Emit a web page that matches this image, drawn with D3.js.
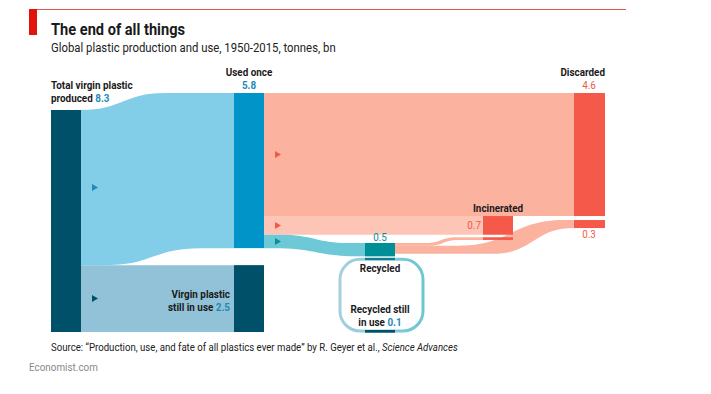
<!DOCTYPE html>
<html>
<head>
<meta charset="utf-8">
<script src="https://cdn.jsdelivr.net/npm/d3@7"></script>
<style>
  html, body { margin: 0; padding: 0; background: #fff; }
  svg { display: block; }
  text { font-family: Roboto, "Noto Sans", sans-serif; }
</style>
</head>
<body>
<svg id="chart" width="711" height="394"></svg>
<script>
// ---------------- DATA ----------------
const nodeIds    = ["total", "usedOnce", "stillUse", "recycled", "incinerated", "discarded", "recycledStill"];
const nodeValues = [8.3, 5.8, 2.5, 0.5, 0.7, 4.6, 0.1];
const linkSources = ["total", "total", "usedOnce", "usedOnce", "usedOnce", "recycled", "recycled", "recycled"];
const linkTargets = ["usedOnce", "stillUse", "discarded", "incinerated", "recycled", "incinerated", "discarded", "recycledStill"];
const linkValues  = [5.8, 2.5, 4.6, 0.7, 0.5, 0.1, 0.3, 0.1];
const titleText = "The end of all things";
const subtitleText = "Global plastic production and use, 1950-2015, tonnes, bn";

// ---------------- LAYOUT ----------------
const svg = d3.select("#chart");
const val = {}; nodeIds.forEach((id, i) => val[id] = nodeValues[i]);

const h = d3.scaleLinear().domain([0, d3.max(nodeValues)]).range([0, 222]);
const colX = d3.scaleOrdinal()
  .domain(["total", "usedOnce", "stillUse", "recycled", "recycledStill", "incinerated", "discarded"])
  .range([51, 234, 234, 365, 365, 483, 574]);
const nodeW = 30;
const SX = 0.86; // horizontal condensing of text

const C = {
  dark: "#00506a", blue: "#0094c8", teal: "#008f96", red: "#f4594a",
  flowBlue: "#82cde8", flowGrey: "#91c2d7", flowRed: "#fbb3a0", flowRed2: "#fdc5b5",
  flowTeal: "#6dc9d5", numBlue: "#1e8bb8", numRed: "#f05a4a", numTeal: "#0a8e98", ink: "#1a1a1a"
};

const nodeTop = {};
nodeTop.total = 110;
nodeTop.usedOnce = 93;
nodeTop.stillUse = nodeTop.total + h(val.total) - h(val.stillUse);
nodeTop.discarded = nodeTop.usedOnce;
nodeTop.incinerated = nodeTop.usedOnce + h(val.discarded);
nodeTop.recycled = 243;
nodeTop.recycledStill = 330;

function txt(x, y, anchor, size, weight, fill) {
  return svg.append("g").attr("transform", `translate(${x},${y}) scale(${SX},1)`)
    .append("text").attr("text-anchor", anchor).attr("font-size", size)
    .attr("font-weight", weight).attr("fill", fill);
}

// ---------------- HEADER ----------------
svg.append("line").attr("x1", 37).attr("x2", 626).attr("y1", 9.5).attr("y2", 9.5)
  .attr("stroke", "#e8574c").attr("stroke-width", 1);
svg.append("rect").attr("x", 29).attr("y", 9).attr("width", 8).attr("height", 26).attr("fill", "#e3120b");
txt(51, 35, "start", 17, "bold", C.ink).text(titleText);
txt(51, 52, "start", 13.2, "normal", "#222").text(subtitleText);

// ---------------- LINKS ----------------
function ribbon(x0, x1, s0, s1, t0, t1, topR, botR) {
  const w = x1 - x0;
  const ta = x0 + topR[0] * w, tb = x0 + topR[1] * w, tm = (ta + tb) / 2;
  const ba = x0 + botR[0] * w, bb = x0 + botR[1] * w, bm = (ba + bb) / 2;
  const p = d3.path();
  p.moveTo(x0, s0); p.lineTo(ta, s0);
  p.bezierCurveTo(tm, s0, tm, t0, tb, t0);
  p.lineTo(x1, t0); p.lineTo(x1, t1); p.lineTo(bb, t1);
  p.bezierCurveTo(bm, t1, bm, s1, ba, s1);
  p.lineTo(x0, s1); p.closePath();
  return p.toString();
}
const linkStyle = {
  "total-usedOnce":       { color: C.flowBlue, topR: [0, 0.55], botR: [0.16, 0.78], arrow: "#1e8bb8" },
  "total-stillUse":       { color: C.flowGrey, topR: [0, 1], botR: [0, 1], arrow: C.dark },
  "usedOnce-discarded":   { color: C.flowRed, topR: [0, 1], botR: [0, 1], arrow: "#f05a4a" },
  "usedOnce-incinerated": { color: C.flowRed2, topR: [0, 1], botR: [0, 1], arrow: "#f05a4a" },
  "usedOnce-recycled":    { color: C.flowTeal, topR: [0.15, 0.85], botR: [0.1, 0.95], arrow: "#0a8e98" },
  "recycled-incinerated": { color: C.flowRed, topR: [0.35, 0.7], botR: [0.38, 0.72] },
  "recycled-discarded":   { color: C.flowRed, topR: [0.35, 0.95], botR: [0.55, 1.0] }
};
const outOff = {}, inOff = {};
nodeIds.forEach(id => { outOff[id] = nodeTop[id]; inOff[id] = nodeTop[id]; });
const gapIn = { discarded: 4, incinerated: 2.5 };
const links = linkSources.map((s, i) => ({ s, t: linkTargets[i], v: linkValues[i] }));
const gLinks = svg.append("g");
const arrows = [];
links.forEach(l => {
  const st = linkStyle[l.s + "-" + l.t];
  const s0 = outOff[l.s], s1 = s0 + h(l.v); outOff[l.s] = s1;
  if (!st) return;
  let t0 = inOff[l.t];
  if (l.s === "recycled" && gapIn[l.t] !== undefined) t0 += gapIn[l.t];
  const t1 = t0 + h(l.v); inOff[l.t] = t1;
  const x0 = colX(l.s) + nodeW, x1 = colX(l.t);
  gLinks.append("path").attr("d", ribbon(x0, x1, s0, s1, t0, t1, st.topR, st.botR)).attr("fill", st.color);
  if (st.arrow) arrows.push({ x: x0 + 11, y: (s0 + s1) / 2, c: st.arrow });
});

// recycling loop
const rx0 = colX("recycled");
const loopTop = nodeTop.recycled + h(val.recycled) + 3;
const loopBot = nodeTop.recycledStill + 1;
const defs = svg.append("defs");
const grad = defs.append("linearGradient").attr("id", "loopGrad").attr("x1", "0").attr("x2", "1");
grad.append("stop").attr("offset", "0").attr("stop-color", "#a6cfde");
grad.append("stop").attr("offset", "1").attr("stop-color", "#6cc6d4");
svg.append("rect").attr("x", rx0 - 25).attr("y", loopTop).attr("width", nodeW + 53).attr("height", loopBot - loopTop)
  .attr("rx", 20).attr("fill", "none").attr("stroke", "url(#loopGrad)").attr("stroke-width", 3);

// arrows
svg.append("g").selectAll("path").data(arrows).join("path")
  .attr("d", d => `M${d.x},${d.y - 3.5}L${d.x + 6},${d.y}L${d.x},${d.y + 3.5}Z`)
  .attr("fill", d => d.c);

// ---------------- NODES ----------------
const gN = svg.append("g");
function bar(id, y0, v, color) {
  gN.append("rect").attr("x", colX(id)).attr("y", y0).attr("width", nodeW + (id === "discarded" ? 1 : 0))
    .attr("height", h(v)).attr("fill", color);
}
bar("total", nodeTop.total, val.total, C.dark);
bar("usedOnce", nodeTop.usedOnce, val.usedOnce, C.blue);
bar("stillUse", nodeTop.stillUse, val.stillUse, C.dark);
bar("discarded", nodeTop.discarded, val.discarded, C.red);
bar("discarded", nodeTop.discarded + h(val.discarded) + gapIn.discarded, 0.3, C.red);
bar("incinerated", nodeTop.incinerated, val.incinerated, C.red);
bar("incinerated", nodeTop.incinerated + h(val.incinerated) + gapIn.incinerated, 0.1, C.red);
bar("recycled", nodeTop.recycled, val.recycled, C.teal);
gN.append("rect").attr("x", colX("recycled")).attr("y", loopTop - 1.5).attr("width", nodeW).attr("height", 2.2).attr("fill", "#0a7f8c");
bar("recycledStill", nodeTop.recycledStill, val.recycledStill, C.dark);

// ---------------- LABELS ----------------
function label(x, y, anchor, parts) {
  const t = txt(x, y, anchor, 11.5, "bold", C.ink);
  parts.forEach(p => t.append("tspan").attr("fill", p[1] || C.ink).attr("font-weight", p[2] || "bold").text(p[0]));
  return t;
}
label(51, 89, "start", [["Total virgin plastic"]]);
label(51, 102, "start", [["produced "], [val.total.toFixed(1), C.numBlue]]);
label(colX("usedOnce") + nodeW / 2, 76, "middle", [["Used once"]]);
label(colX("usedOnce") + nodeW / 2, 89, "middle", [[val.usedOnce.toFixed(1), C.numBlue]]);
label(colX("discarded") + nodeW + 1, 76, "end", [["Discarded"]]);
label(colX("discarded") + nodeW / 2, 89, "middle", [[val.discarded.toFixed(1), C.numRed, "normal"]]);
label(colX("incinerated") + nodeW / 2, 212, "middle", [["Incinerated"]]);
label(colX("incinerated") - 2, 229, "end", [[val.incinerated.toFixed(1), C.numRed, "normal"]]);
label(colX("discarded") + nodeW / 2, 238, "middle", [["0.3", C.numRed, "normal"]]);
label(colX("recycled") + nodeW / 2, 241, "middle", [[val.recycled.toFixed(1), C.numTeal, "normal"]]);
label(colX("recycled") + nodeW / 2, 272, "middle", [["Recycled"]]);
label(colX("recycled") + nodeW / 2, 313, "middle", [["Recycled still"]]);
label(colX("recycled") + nodeW / 2, 326, "middle", [["in use "], [val.recycledStill.toFixed(1), C.numBlue]]);
label(colX("stillUse") - 4, 298, "end", [["Virgin plastic"]]);
label(colX("stillUse") - 4, 311, "end", [["still in use "], [val.stillUse.toFixed(1), C.numBlue]]);

// ---------------- FOOTER ----------------
const src = txt(51, 351, "start", 11.2, "normal", "#222");
src.append("tspan").text("Source: \u201cProduction, use, and fate of all plastics ever made\u201d by R. Geyer et al., ");
src.append("tspan").attr("font-style", "italic").text("Science Advances");
txt(29, 371, "start", 11.5, "normal", "#8a8a8a").text("Economist.com");
</script>
</body>
</html>
